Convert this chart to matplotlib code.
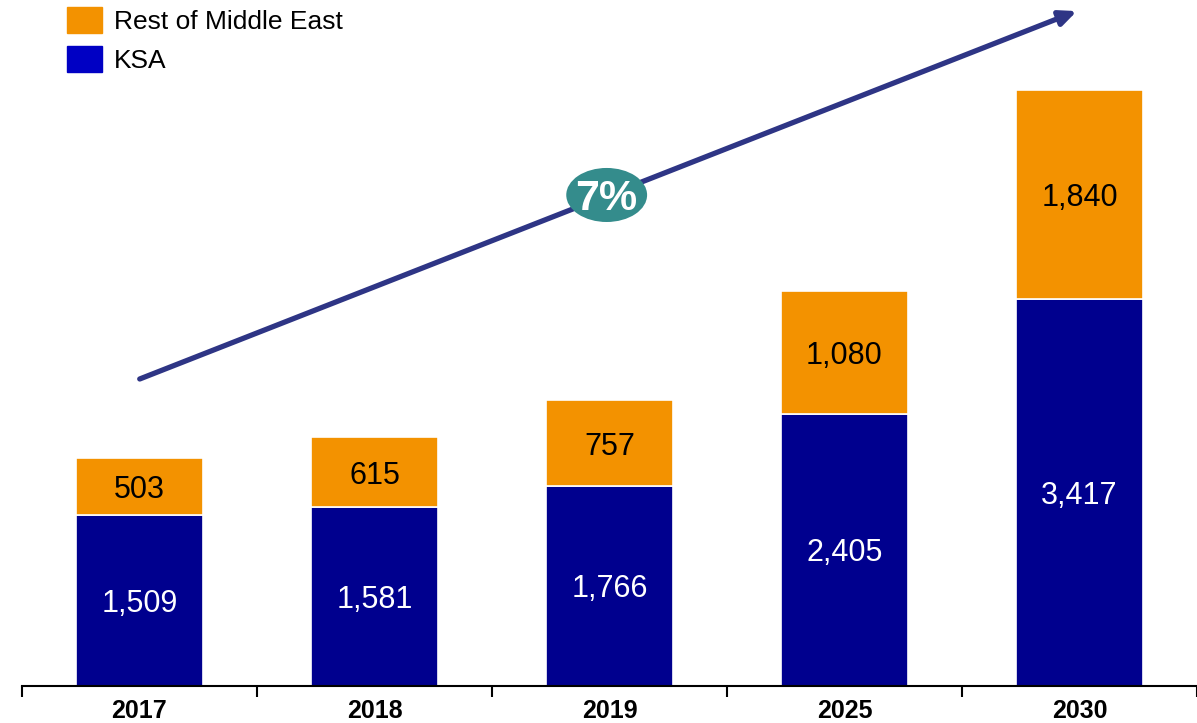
import matplotlib.pyplot as plt
from matplotlib.patches import Ellipse, Patch

years = ['2017', '2018', '2019', '2025', '2030']
ksa = [1509, 1581, 1766, 2405, 3417]
rest_me = [503, 615, 757, 1080, 1840]
cagr_label = '7%'

navy = '#00008E'
orange = '#F39200'
teal = '#348C8C'
arrow_col = '#2E3585'

plt.rcParams['font.family'] = ['Liberation Sans', 'DejaVu Sans']

fig = plt.figure(figsize=(11.97, 7.23), dpi=100)
ax = fig.add_axes([22 / 1197, 37 / 723, 1 - 22 / 1197, 686 / 723])

x = list(range(len(years)))
b1 = ax.bar(x, ksa, width=0.54, color=navy, edgecolor='white', linewidth=1.2)
b2 = ax.bar(x, rest_me, width=0.54, bottom=ksa, color=orange, edgecolor='white', linewidth=1.2)
lab1 = ax.bar_label(b1, labels=[f'{v:,}' for v in ksa], label_type='center', color='white', fontsize=22)
lab2 = ax.bar_label(b2, labels=[f'{v:,}' for v in rest_me], label_type='center', color='black', fontsize=22)
for t in lab1 + lab2:
    t.set_va('center_baseline')

ax.set_xlim(-0.5, 4.5)
ax.set_ylim(0, 6055)

# growth arrow with CAGR bubble
ax.annotate('', xy=(4.0, 5966), xytext=(-0.01, 2701),
            arrowprops=dict(arrowstyle='-|>,head_length=1.0,head_width=0.45', color=arrow_col, lw=3.8))
ax.add_patch(Ellipse((1.988, 4334), 0.344, 477, facecolor=teal, edgecolor='none', zorder=5))
ax.text(1.988, 4334, cagr_label, ha='center', va='center_baseline', color='white', fontsize=31,
        fontweight='bold', zorder=6)

ax.set_xticks(x)
ax.set_xticklabels(years, fontsize=18, fontweight='bold')
ax.set_xticks([i - 0.5 for i in range(len(years) + 1)], minor=True)
ax.tick_params(axis='x', which='major', length=0, pad=9)
ax.tick_params(axis='x', which='minor', length=8, width=1.5, direction='out', color='black')
ax.set_yticks([])
for s in ['left', 'top', 'right']:
    ax.spines[s].set_visible(False)
ax.spines['bottom'].set_linewidth(1.5)

handles = [Patch(color=orange), Patch(color='#0000C4')]
fig.legend(handles, ['Rest of Middle East', 'KSA'], loc='upper left',
           bbox_to_anchor=(67 / 1197, 1 - 7 / 723), frameon=False, fontsize=19,
           handlelength=1.33, handleheight=1.15, handletextpad=0.45, labelspacing=0.45,
           borderpad=0, borderaxespad=0)

fig.savefig('out.png', dpi=100)
